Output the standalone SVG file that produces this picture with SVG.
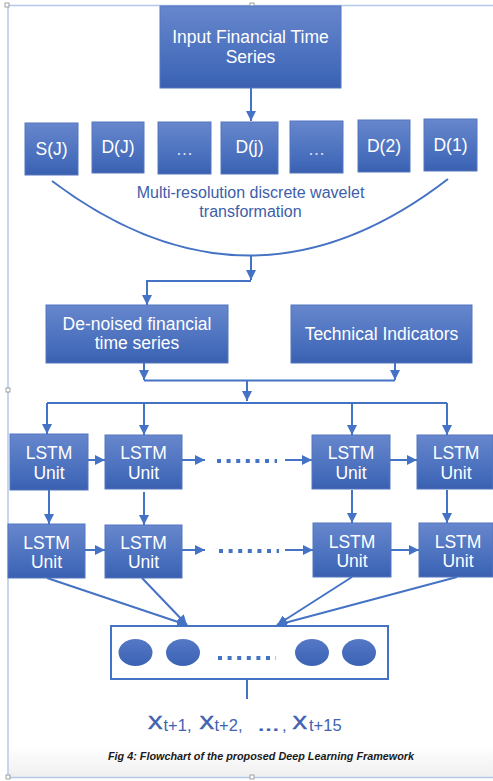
<svg xmlns="http://www.w3.org/2000/svg" width="493" height="781" viewBox="0 0 493 781">
<defs>
  <linearGradient id="boxg" x1="0" y1="0" x2="0" y2="1">
    <stop offset="0" stop-color="#6787cd"/>
    <stop offset="0.85" stop-color="#4068b8"/>
    <stop offset="1" stop-color="#3a5fae"/>
  </linearGradient>
  <linearGradient id="ellg" x1="0" y1="0" x2="0" y2="1">
    <stop offset="0" stop-color="#5678c6"/>
    <stop offset="1" stop-color="#3a62b4"/>
  </linearGradient>
  <linearGradient id="bottomg" x1="0" y1="0" x2="0" y2="1">
    <stop offset="0" stop-color="#ffffff"/>
    <stop offset="1" stop-color="#efefef"/>
  </linearGradient>
  <marker id="arr" markerUnits="userSpaceOnUse" markerWidth="10" markerHeight="10" refX="10" refY="5" orient="auto">
    <path d="M0,0 L10,5 L0,10 z" fill="#4472c4"/>
  </marker>
  <style>
    .box { fill: url(#boxg); stroke: #5577c0; stroke-width: 1; }
    .bt { fill: #ffffff; font-family: "Liberation Sans", Arial, sans-serif; font-size: 17.5px; text-anchor: middle; }
    .ln { fill: none; stroke: #4472c4; stroke-width: 2; }
    .ar { fill: none; stroke: #4472c4; stroke-width: 2; marker-end: url(#arr); }
    .dots { fill: none; stroke: #4472c4; stroke-width: 4; stroke-dasharray: 4 5.6; }
    .lt { fill: #3d5ea8; font-family: "Liberation Sans", Arial, sans-serif; text-anchor: middle; }
    .ot { fill: #4062b0; font-family: "Liberation Sans", Arial, sans-serif; font-size: 16.5px; }
    .ox { fill: #4062b0; stroke: #4062b0; stroke-width: 0.6; font-family: "Liberation Sans", Arial, sans-serif; font-size: 17.5px; }
    .frame { fill: none; stroke: #b4c8ec; stroke-width: 1.5; }
    .hd { fill: #ffffff; stroke: #8a8a8a; stroke-width: 0.8; }
  </style>
</defs>
<rect width="493" height="781" fill="#ffffff"/>
<rect x="9" y="745" width="484" height="32" fill="url(#bottomg)"/>

<g id="frame">
  <path class="frame" d="M8,5.5 H493 M8,5.5 V777.5 H493"/>
  <rect class="hd" x="5" y="3" width="4" height="4"/>
  <rect class="hd" x="250" y="3" width="4" height="4"/>
  <rect class="hd" x="6" y="388" width="4" height="4"/>
  <rect class="hd" x="6" y="775" width="4" height="4"/>
  <rect class="hd" x="250" y="775" width="4" height="4"/>
</g>

<g id="input">
  <rect class="box" x="160" y="6" width="181" height="82"/>
  <text class="bt" x="250.5" y="43">Input Financial Time</text>
  <text class="bt" x="250.5" y="63">Series</text>
</g>

<g id="sJ"><rect class="box" x="25" y="123" width="53" height="52"/><text class="bt" x="51.5" y="155">S(J)</text></g>
<g id="dJ"><rect class="box" x="92" y="122" width="52" height="51"/><text class="bt" x="118" y="153">D(J)</text></g>
<g id="dots1"><rect class="box" x="158" y="122" width="53" height="52"/><text class="bt" x="184.5" y="155" fill-opacity="0.8">…</text></g>
<g id="dj"><rect class="box" x="221" y="122" width="57" height="52"/><text class="bt" x="249.5" y="153">D(j)</text></g>
<g id="dots2"><rect class="box" x="290" y="121" width="53" height="52"/><text class="bt" x="316.5" y="155" fill-opacity="0.8">…</text></g>
<g id="d2"><rect class="box" x="358" y="120" width="52" height="52"/><text class="bt" x="384" y="152">D(2)</text></g>
<g id="d1"><rect class="box" x="424" y="119" width="53" height="52"/><text class="bt" x="450.5" y="151">D(1)</text></g>

<g id="wavelet-label">
  <text class="lt" x="250.5" y="198" font-size="16">Multi-resolution discrete wavelet</text>
  <text class="lt" x="250.5" y="217" font-size="16">transformation</text>
</g>

<g id="denoised">
  <rect class="box" x="46" y="305" width="182" height="58"/>
  <text class="bt" x="137" y="330">De-noised financial</text>
  <text class="bt" x="137" y="349">time series</text>
</g>
<g id="technical">
  <rect class="box" x="291" y="305" width="181" height="58"/>
  <text class="bt" x="381.5" y="340">Technical Indicators</text>
</g>

<g id="lstm11"><rect class="box" x="10" y="434" width="78" height="56"/><text class="bt" x="49" y="459">LSTM</text><text class="bt" x="49" y="479">Unit</text></g>
<g id="lstm12"><rect class="box" x="105" y="435" width="77" height="54"/><text class="bt" x="143.5" y="459">LSTM</text><text class="bt" x="143.5" y="479">Unit</text></g>
<g id="lstm13"><rect class="box" x="312" y="435" width="78" height="54"/><text class="bt" x="351" y="459">LSTM</text><text class="bt" x="351" y="479">Unit</text></g>
<g id="lstm14"><rect class="box" x="417" y="435" width="76" height="54"/><text class="bt" x="456" y="459">LSTM</text><text class="bt" x="456" y="479">Unit</text></g>

<g id="lstm21"><rect class="box" x="8" y="524" width="77" height="54"/><text class="bt" x="46.5" y="549">LSTM</text><text class="bt" x="46.5" y="568">Unit</text></g>
<g id="lstm22"><rect class="box" x="105" y="525" width="77" height="53"/><text class="bt" x="143.5" y="549">LSTM</text><text class="bt" x="143.5" y="568">Unit</text></g>
<g id="lstm23"><rect class="box" x="313" y="523" width="78" height="54"/><text class="bt" x="352" y="548">LSTM</text><text class="bt" x="352" y="567">Unit</text></g>
<g id="lstm24"><rect class="box" x="419" y="523" width="74" height="54"/><text class="bt" x="458" y="548">LSTM</text><text class="bt" x="458" y="567">Unit</text></g>

<g id="output-layer">
  <rect x="111" y="626" width="277" height="53" fill="#ffffff" stroke="#4472c4" stroke-width="2"/>
  <ellipse cx="135.5" cy="652.5" rx="17" ry="13.5" fill="url(#ellg)"/>
  <ellipse cx="183" cy="652.5" rx="17" ry="13.5" fill="url(#ellg)"/>
  <ellipse cx="312" cy="652.5" rx="17" ry="13.5" fill="url(#ellg)"/>
  <ellipse cx="359" cy="652.5" rx="17" ry="13.5" fill="url(#ellg)"/>
  <path class="dots" d="M218,658 H276"/>
</g>

<g id="outputs">
  <text class="ox" x="148" y="729" textLength="14.5" lengthAdjust="spacingAndGlyphs">X</text>
  <text class="ot" x="163.5" y="731">t+1,</text>
  <text class="ox" x="199.5" y="729" textLength="14.5" lengthAdjust="spacingAndGlyphs">X</text>
  <text class="ot" x="214.5" y="731">t+2,</text>
  <text class="ot" x="257" y="731" textLength="23" lengthAdjust="spacingAndGlyphs" font-weight="bold">…</text>
  <text class="ot" x="282" y="731">,</text>
  <text class="ox" x="292.5" y="729" textLength="14.5" lengthAdjust="spacingAndGlyphs">X</text>
  <text class="ot" x="309" y="731">t+15</text>
</g>

<g id="caption">
  <text x="261" y="760" font-family="'Liberation Sans', Arial, sans-serif" font-size="10" font-weight="bold" font-style="italic" text-anchor="middle" fill="#1a1a1a" textLength="306" lengthAdjust="spacingAndGlyphs">Fig 4: Flowchart of the proposed Deep Learning Framework</text>
</g>

<g id="connectors">
  <path class="ar" d="M251,88 V121"/>
  <path class="ln" d="M52,181 Q251,331 448,179"/>
  <path class="ar" d="M251,256 V280"/>
  <path class="ar" d="M251,281 H147 V305"/>
  <path class="ar" d="M144,363 V380"/>
  <path class="ar" d="M395,363 V380"/>
  <path class="ln" d="M144,380.5 H395"/>
  <path class="ar" d="M247,380 V401"/>
  <path class="ln" d="M47,403 H447"/>
  <path class="ar" d="M47,403 V434"/>
  <path class="ar" d="M144,403 V435"/>
  <path class="ar" d="M352,403 V435"/>
  <path class="ar" d="M447,403 V435"/>

  <path class="ar" d="M88,460 H105"/>
  <path class="ar" d="M182,460 H205"/>
  <path class="dots" d="M217,461 H277"/>
  <path class="ar" d="M285,460 H312"/>
  <path class="ar" d="M390,460 H417"/>

  <path class="ar" d="M49,490 V524"/>
  <path class="ar" d="M144,492 V525"/>
  <path class="ar" d="M352,490 V523"/>
  <path class="ar" d="M447,490 V523"/>

  <path class="ar" d="M85,550 H105"/>
  <path class="ar" d="M182,550 H205"/>
  <path class="dots" d="M219,551 H279"/>
  <path class="ar" d="M285,550 H313"/>
  <path class="ar" d="M391,550 H419"/>

  <path class="ar" d="M47,578 L187,625"/>
  <path class="ar" d="M142,578 L187,625"/>
  <path class="ar" d="M352,577 L277,625"/>
  <path class="ar" d="M457,577 L277,625"/>

  <path class="ln" d="M247,679 V699"/>
</g>
</svg>
